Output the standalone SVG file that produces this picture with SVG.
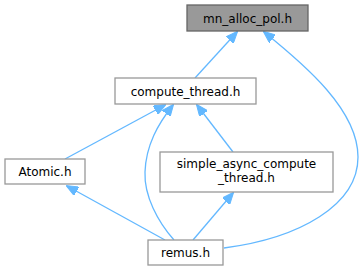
<svg xmlns="http://www.w3.org/2000/svg" width="364" height="271" viewBox="0 0 364 271">
  <style>
    .box { fill: #ffffff; stroke: #999999; stroke-width: 1.3; }
    .root { fill: #999999; stroke: #666666; stroke-width: 1.3; }
    .lbl { font-family: "DejaVu Sans", "Liberation Sans", sans-serif; font-size: 12px; fill: #000000; text-anchor: middle; }
    .edge { fill: none; stroke: #63b8ff; stroke-width: 1.3; }
  </style>
  <defs>
    <marker id="arrow" markerWidth="12" markerHeight="10" refX="11" refY="5" orient="auto" markerUnits="userSpaceOnUse">
      <path d="M0,0 L12,5 L0,10 Z" fill="#63b8ff" stroke="#63b8ff" stroke-width="1"/>
    </marker>
  </defs>

  <g id="edges">
    <!-- compute_thread.h -> mn_alloc_pol.h -->
    <path class="edge" d="M195,78 L237,32" marker-end="url(#arrow)"/>
    <!-- remus.h -> mn_alloc_pol.h -->
    <path class="edge" d="M224,248 C300,238 358,205 358,157 C358,110 305,65 264,32" marker-end="url(#arrow)"/>
    <!-- Atomic.h -> compute_thread.h -->
    <path class="edge" d="M65,159 L165,105" marker-end="url(#arrow)"/>
    <!-- remus.h -> compute_thread.h -->
    <path class="edge" d="M174,240 C158,222 144,196 145,172 C146,145 158,124 173,105" marker-end="url(#arrow)"/>
    <!-- simple_async_compute_thread.h -> compute_thread.h -->
    <path class="edge" d="M233,152 L197,105" marker-end="url(#arrow)"/>
    <!-- remus.h -> Atomic.h -->
    <path class="edge" d="M165,240 L67,186" marker-end="url(#arrow)"/>
    <!-- remus.h -> simple_async_compute_thread.h -->
    <path class="edge" d="M193,240 L233,193" marker-end="url(#arrow)"/>
  </g>

  <g id="mn_alloc_pol">
    <rect class="root" x="187" y="5" width="121" height="26"/>
    <text class="lbl" x="247.5" y="22.5">mn_alloc_pol.h</text>
  </g>
  <g id="compute_thread">
    <rect class="box" x="115" y="78" width="141" height="26"/>
    <text class="lbl" x="185.5" y="95.5">compute_thread.h</text>
  </g>
  <g id="atomic">
    <rect class="box" x="5" y="159" width="80" height="25"/>
    <text class="lbl" x="45" y="176">Atomic.h</text>
  </g>
  <g id="simple_async_compute_thread">
    <rect class="box" x="160" y="152" width="173" height="40"/>
    <text class="lbl" x="246.5" y="168">simple_async_compute</text>
    <text class="lbl" x="246.5" y="182">_thread.h</text>
  </g>
  <g id="remus">
    <rect class="box" x="148" y="240" width="75" height="25"/>
    <text class="lbl" x="185.5" y="257">remus.h</text>
  </g>
</svg>
